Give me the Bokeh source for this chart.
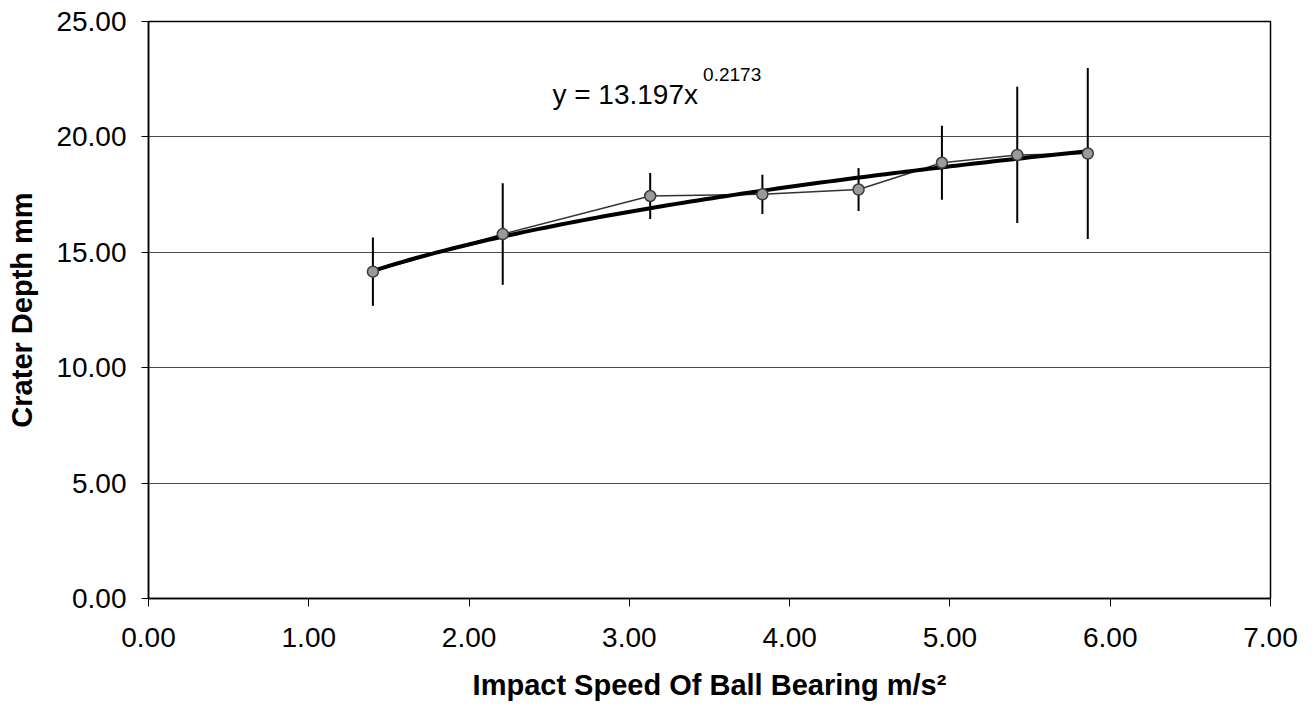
from bokeh.plotting import figure
from bokeh.models import Range1d, NumeralTickFormatter, FixedTicker, Label
from bokeh.embed import file_html
from bokeh.resources import INLINE
import numpy as np

# ---- data ----
speed = [1.40, 2.21, 3.13, 3.83, 4.43, 4.95, 5.42, 5.86]          # m/s
depth = [14.16, 15.79, 17.44, 17.51, 17.72, 18.88, 19.22, 19.28]  # mm
depth_err = [1.48, 2.20, 1.00, 0.85, 0.93, 1.60, 2.95, 3.70]      # +/- mm

x_ticks = [0, 1, 2, 3, 4, 5, 6, 7]
y_ticks = [0, 5, 10, 15, 20, 25]

trend_a = 13.197
trend_b = 0.2173
eq_main = "y = 13.197x"
eq_sup = "0.2173"

x_title = "Impact Speed Of Ball Bearing m/s\u00b2"
y_title = "Crater Depth mm"

FONT = "Liberation Sans"

p = figure(width=1310, height=709, output_backend="svg", toolbar_location=None,
           x_range=Range1d(0, 7), y_range=Range1d(0, 25),
           min_border_left=148, min_border_right=40, min_border_top=21, min_border_bottom=111)

p.background_fill_color = "white"
p.border_fill_color = "white"
p.outline_line_color = "black"
p.outline_line_width = 1.5

p.xgrid.grid_line_color = None
p.ygrid.grid_line_color = "#4a4a4a"
p.ygrid.grid_line_width = 1

for ax in (p.xaxis[0], p.yaxis[0]):
    ax.formatter = NumeralTickFormatter(format="0.00")
    ax.axis_line_color = "black"
    ax.axis_line_width = 1.5
    ax.major_tick_line_color = "black"
    ax.major_tick_in = 0
    ax.minor_tick_line_color = None
    ax.major_label_text_font = FONT
    ax.major_label_text_font_size = "28px"
    ax.major_label_text_color = "black"
    ax.axis_label_text_font = FONT
    ax.axis_label_text_font_size = "29px"
    ax.axis_label_text_font_style = "bold"
    ax.axis_label_text_color = "black"

p.xaxis[0].ticker = FixedTicker(ticks=x_ticks)
p.yaxis[0].ticker = FixedTicker(ticks=y_ticks)
p.xaxis[0].major_tick_out = 8
p.yaxis[0].major_tick_out = 7
p.xaxis[0].major_label_standoff = 21
p.yaxis[0].major_label_standoff = 15
p.xaxis[0].axis_label_standoff = 19
p.yaxis[0].axis_label_standoff = 15
p.xaxis[0].axis_label = x_title
p.yaxis[0].axis_label = y_title

# error bars
lower = [d - e for d, e in zip(depth, depth_err)]
upper = [d + e for d, e in zip(depth, depth_err)]
p.segment(x0=speed, y0=lower, x1=speed, y1=upper, line_color="black", line_width=2)

# data line
p.line(speed, depth, line_color="#333333", line_width=1.5)

# power trendline y = a x^b (from the equation shown on the chart)
tx = np.linspace(min(speed), max(speed), 100)
ty = trend_a * tx ** trend_b
p.line(tx, ty, line_color="black", line_width=4)

# markers
p.scatter(speed, depth, size=11, marker="circle", fill_color="#9a9a9a", line_color="#3a3a3a", line_width=1.5)

# trendline equation with superscript exponent
p.add_layout(Label(x=2.52, y=21.83, text=eq_main, text_font=FONT, text_font_size="28px",
                   text_color="black", text_baseline="alphabetic", text_align="left"))
p.add_layout(Label(x=3.46, y=22.70, text=eq_sup, text_font=FONT, text_font_size="19px",
                   text_color="black", text_baseline="alphabetic", text_align="left"))

open("out.html", "w").write(file_html(p, INLINE))
